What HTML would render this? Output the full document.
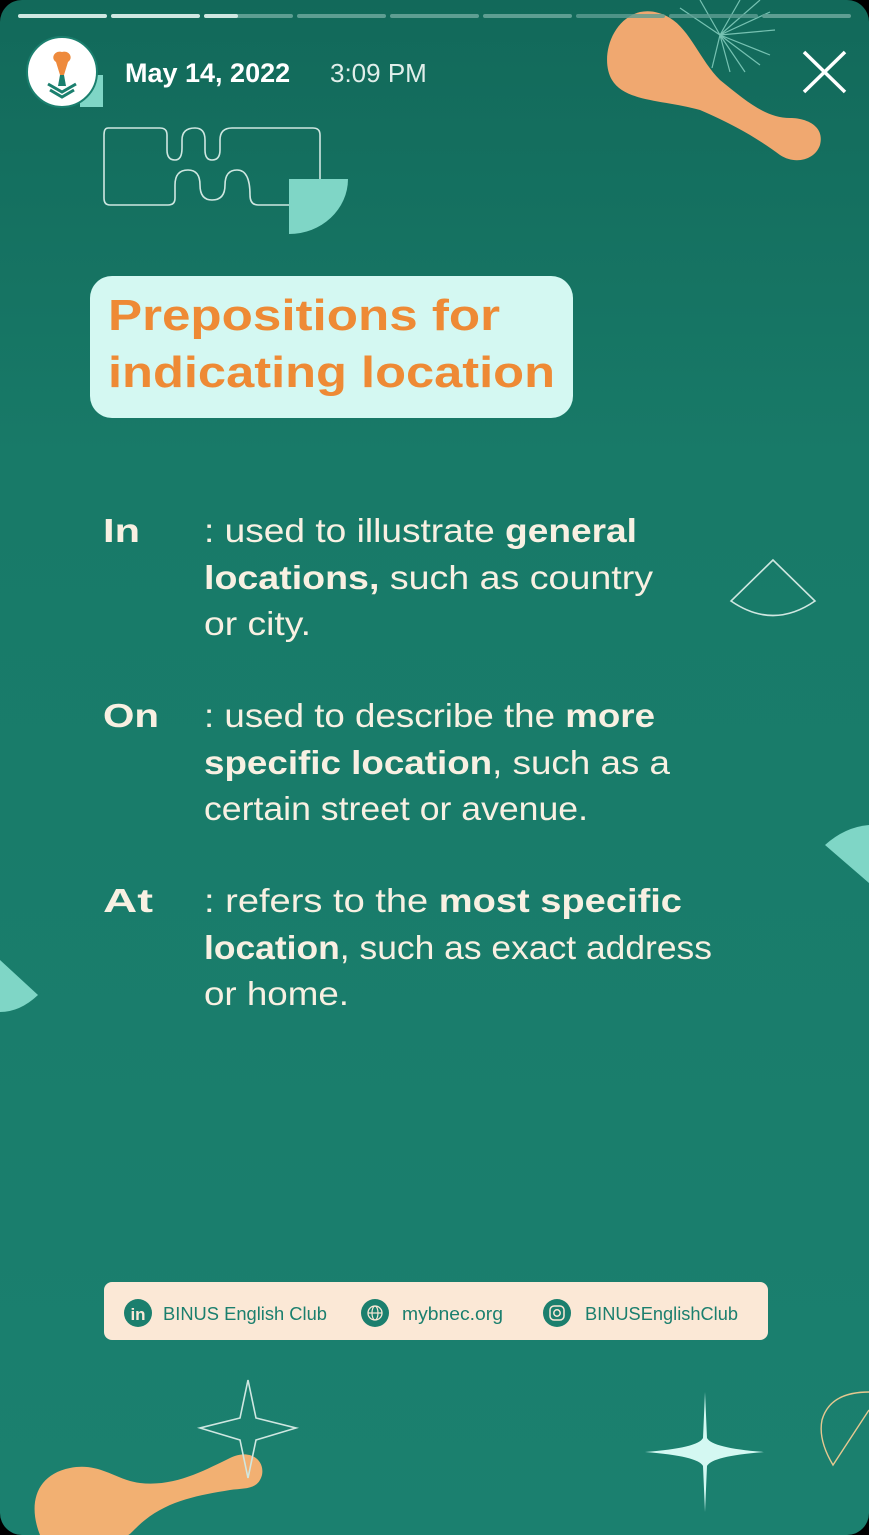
<!DOCTYPE html>
<html><head><meta charset="utf-8"><style>
html,body{margin:0;padding:0;background:#000;}
svg{display:block;}
text{font-family:"Liberation Sans",sans-serif;}
</style></head><body>
<svg width="869" height="1535" viewBox="0 0 869 1535">
<defs>
<linearGradient id="bg" x1="0" y1="0" x2="0" y2="1">
<stop offset="0" stop-color="#12695a"/><stop offset="0.3" stop-color="#187a68"/><stop offset="1" stop-color="#1b806f"/>
</linearGradient>
</defs>
<rect x="0" y="0" width="869" height="1535" rx="22" fill="url(#bg)"/>

<!-- top right blob -->
<path d="M640,12 C610,20 600,60 612,80 C625,102 665,100 700,110 C735,125 760,140 780,155 C795,165 815,160 820,145 C825,125 805,118 790,118 C765,118 745,100 720,80 C700,60 690,30 670,18 C660,12 650,10 640,12 Z" fill="#f0a870"/>
<g stroke="#8fd8c8" stroke-width="1.2" opacity="0.8">
<line x1="720" y1="35" x2="775" y2="30"/><line x1="720" y1="35" x2="770" y2="12"/><line x1="720" y1="35" x2="760" y2="0"/><line x1="720" y1="35" x2="740" y2="0"/><line x1="720" y1="35" x2="700" y2="0"/><line x1="720" y1="35" x2="770" y2="55"/><line x1="720" y1="35" x2="760" y2="65"/><line x1="720" y1="35" x2="745" y2="72"/><line x1="720" y1="35" x2="730" y2="72"/><line x1="720" y1="35" x2="712" y2="68"/><line x1="720" y1="35" x2="680" y2="8"/>
</g>

<!-- progress bars -->
<g>
<rect x="18" y="14" width="89" height="4" rx="2" fill="#cfe7e1"/>
<rect x="111" y="14" width="89" height="4" rx="2" fill="#cfe7e1"/>
<rect x="204" y="14" width="89" height="4" rx="2" fill="#5e9e92"/>
<rect x="204" y="14" width="34" height="4" rx="2" fill="#cfe7e1"/>
<rect x="297" y="14" width="89" height="4" rx="2" fill="#5e9e92"/>
<rect x="390" y="14" width="89" height="4" rx="2" fill="#5e9e92"/>
<rect x="483" y="14" width="89" height="4" rx="2" fill="#5e9e92"/>
<rect x="576" y="14" width="89" height="4" rx="2" fill="#5e9e92" opacity="0.8"/>
<rect x="669" y="14" width="89" height="4" rx="2" fill="#5e9e92" opacity="0.8"/>
<rect x="762" y="14" width="89" height="4" rx="2" fill="#5e9e92"/>
</g>

<!-- avatar -->
<g>
<rect x="80" y="75" width="23" height="32" fill="#7fd6c6"/>
<circle cx="62" cy="72" r="35" fill="#fff" stroke="#1b7f6e" stroke-width="2"/>
<path d="M62,52 C55,50 50,58 56,62 L60,75 L64,75 L68,62 C74,58 69,50 62,52 Z" fill="#ee8a3c"/>
<path d="M48,84 L62,92 L76,84 M50,90 L62,97 L74,90" stroke="#1b7f6e" stroke-width="3" fill="none"/>
<path d="M60,75 L64,75 L66,86 L58,86 Z" fill="#1b7f6e"/>
</g>
<text x="125" y="82" font-size="27" fill="#fff" font-weight="bold">May 14, 2022</text>
<text x="330" y="82" font-size="26" fill="#e0eeea">3:09 PM</text>
<g stroke="#fff" stroke-width="3.5">
<line x1="804" y1="52" x2="845" y2="92"/><line x1="845" y1="52" x2="804" y2="92"/>
</g>

<!-- decor top-left -->
<path d="M108,128 L160,128 Q167,128 167,135 L167,150 Q167,160 175,160 Q182,160 182,148 L182,140 Q182,128 195,128 Q205,128 205,140 L205,150 Q205,160 212,160 Q220,160 220,150 L220,140 Q220,128 232,128 L313,128 Q320,128 320,135 L320,205 L258,205 Q250,205 250,195 Q250,170 237,170 Q225,170 225,185 Q225,200 212,200 Q200,200 200,185 Q200,170 188,170 Q175,170 175,185 L175,198 Q175,205 168,205 L110,205 Q104,205 104,198 L104,135 Q104,128 108,128 Z" fill="none" stroke="#cfe7e1" stroke-width="1.6"/>
<path d="M289,179 L348,179 A59,55 0 0 1 289,234 Z" fill="#7fd6c6"/>

<!-- title -->
<rect x="90" y="276" width="483" height="142" rx="22" fill="#d4f8f2"/>
<text font-size="44" font-weight="bold" fill="#ee8a35">
<tspan x="108" y="330" textLength="392" lengthAdjust="spacingAndGlyphs">Prepositions for</tspan>
<tspan x="108" y="387" textLength="447" lengthAdjust="spacingAndGlyphs">indicating location</tspan>
</text>

<g fill="#f8f0e2" font-size="33">
<text x="103" y="542" font-weight="bold" textLength="37" lengthAdjust="spacingAndGlyphs">In</text>
<text x="204" y="542" textLength="433" lengthAdjust="spacingAndGlyphs">: used to illustrate <tspan font-weight="bold">general</tspan></text>
<text x="204" y="589" textLength="449" lengthAdjust="spacingAndGlyphs"><tspan font-weight="bold">locations,</tspan> such as country</text>
<text x="204" y="635" textLength="107" lengthAdjust="spacingAndGlyphs">or city.</text>

<text x="103" y="727" font-weight="bold" textLength="56" lengthAdjust="spacingAndGlyphs">On</text>
<text x="204" y="727" textLength="451" lengthAdjust="spacingAndGlyphs">: used to describe the <tspan font-weight="bold">more</tspan></text>
<text x="204" y="774" textLength="466" lengthAdjust="spacingAndGlyphs"><tspan font-weight="bold">specific location</tspan>, such as a</text>
<text x="204" y="820" textLength="384" lengthAdjust="spacingAndGlyphs">certain street or avenue.</text>

<text x="103" y="912" font-weight="bold" textLength="50" lengthAdjust="spacingAndGlyphs">At</text>
<text x="204" y="912" textLength="478" lengthAdjust="spacingAndGlyphs">: refers to the <tspan font-weight="bold">most specific</tspan></text>
<text x="204" y="959" textLength="508" lengthAdjust="spacingAndGlyphs"><tspan font-weight="bold">location</tspan>, such as exact address</text>
<text x="204" y="1005" textLength="145" lengthAdjust="spacingAndGlyphs">or home.</text>
</g>

<!-- side decor -->
<path d="M773,560 L731,601 Q773,630 815,601 Z" fill="none" stroke="#cfe7e1" stroke-width="1.6"/>
<path d="M825,845 Q845,827 869,825 L869,883 Z" fill="#7fd6c6"/>
<path d="M0,960 L38,995 Q20,1012 0,1012 Z" fill="#7fd6c6"/>

<!-- footer -->
<rect x="104" y="1282" width="664" height="58" rx="8" fill="#fbe8d6"/>
<g>
<circle cx="138" cy="1313" r="14" fill="#1b7f6e"/>
<text x="138" y="1320" font-size="17" font-weight="bold" fill="#fbe8d6" text-anchor="middle">in</text>
<text x="163" y="1320" font-size="18" fill="#1b7f6e" textLength="164" lengthAdjust="spacingAndGlyphs">BINUS English Club</text>
</g>
<g>
<circle cx="375" cy="1313" r="14" fill="#1b7f6e"/>
<circle cx="375" cy="1313" r="7" fill="none" stroke="#fbe8d6" stroke-width="1.3"/>
<ellipse cx="375" cy="1313" rx="3" ry="7" fill="none" stroke="#fbe8d6" stroke-width="1.2"/>
<line x1="368" y1="1313" x2="382" y2="1313" stroke="#fbe8d6" stroke-width="1.2"/>
<text x="402" y="1320" font-size="18" fill="#1b7f6e" textLength="101" lengthAdjust="spacingAndGlyphs">mybnec.org</text>
</g>
<g>
<circle cx="557" cy="1313" r="14" fill="#1b7f6e"/>
<rect x="550" y="1306" width="14" height="14" rx="4" fill="none" stroke="#fbe8d6" stroke-width="1.5"/>
<circle cx="557" cy="1313" r="3.2" fill="none" stroke="#fbe8d6" stroke-width="1.5"/>
<text x="585" y="1320" font-size="18" fill="#1b7f6e" textLength="153" lengthAdjust="spacingAndGlyphs">BINUSEnglishClub</text>
</g>

<!-- bottom decor -->
<path d="M40,1535 C28,1505 35,1475 70,1468 C100,1462 115,1480 140,1483 C175,1487 205,1470 230,1458 C250,1448 265,1460 262,1475 C258,1490 245,1488 230,1490 C200,1495 170,1500 145,1520 C135,1528 130,1535 128,1535 Z" fill="#f2b072"/>
<path d="M248,1380 L256,1418 L296,1428 L256,1440 L248,1478 L240,1440 L200,1428 L240,1418 Z" fill="none" stroke="#cfe7e1" stroke-width="1.6"/>
<path d="M705,1392 L707,1438 Q712,1448 764,1452 Q712,1456 707,1466 L705,1512 L703,1466 Q698,1456 645,1452 Q698,1448 703,1438 Z" fill="#d4f8f2"/>
<path d="M869,1392 Q830,1392 822,1420 Q818,1440 833,1465 L869,1410" fill="none" stroke="#e6c890" stroke-width="1.4"/>
</svg>
</body></html>
